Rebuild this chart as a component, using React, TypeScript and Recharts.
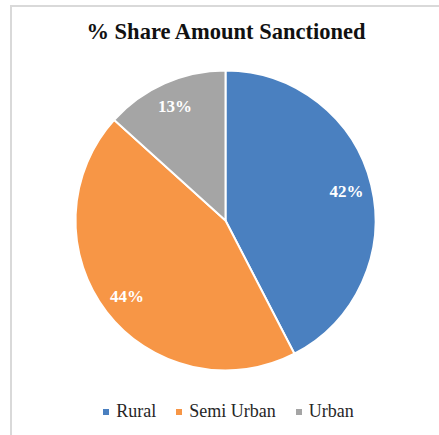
import { PieChart, Pie, Cell, Legend } from "recharts"

const categories = ["Rural", "Semi Urban", "Urban"]
const shares = [42.4, 44.3, 13.3]
const colors = ["#4a80c0", "#f79646", "#a5a5a5"]

const data = categories.map((name, i) => ({ name, value: shares[i] }))

const RAD = Math.PI / 180
const FONT = "Liberation Serif, serif"

function renderLabel({ cx, cy, midAngle, outerRadius, value }: any) {
  const r = outerRadius * 0.83
  const x = cx + r * Math.cos(-midAngle * RAD)
  const y = cy + r * Math.sin(-midAngle * RAD)
  return (
    <text
      x={x}
      y={y}
      fill="#ffffff"
      textAnchor="middle"
      dominantBaseline="central"
      fontFamily={FONT}
      fontWeight="bold"
      fontSize={17}
    >
      {`${Math.round(value)}%`}
    </text>
  )
}

function renderLegend() {
  return (
    <div style={{ display: "flex", justifyContent: "center", fontFamily: FONT, fontSize: 18, color: "#262626", paddingLeft: 18 }}>
      {categories.map((name, i) => (
        <div key={name} style={{ display: "flex", alignItems: "center", marginRight: i < categories.length - 1 ? 20 : 0 }}>
          <span style={{ width: 6, height: 6, background: colors[i], display: "inline-block", marginRight: 7 }} />
          <span>{name}</span>
        </div>
      ))}
    </div>
  )
}

export default function App() {
  return (
    <div style={{ position: "absolute", left: 0, top: 0, width: 439, height: 435, overflow: "hidden", background: "#fff" }}>
      <div
        style={{
          position: "absolute",
          left: 10,
          top: 5,
          width: 460,
          height: 460,
          border: "2px solid #d9d9d9",
        }}
      />
      <div
        style={{
          position: "absolute",
          left: 0,
          top: 19,
          width: 452,
          textAlign: "center",
          fontFamily: FONT,
          fontWeight: "bold",
          fontSize: 22.5,
          color: "#111",
        }}
      >
        % Share Amount Sanctioned
      </div>
      <div style={{ position: "absolute", left: 0, top: 0 }}>
        <PieChart width={439} height={435} margin={{ top: 0, right: 0, bottom: 0, left: 0 }}>
          <Pie
            data={data}
            dataKey="value"
            cx={225.5}
            cy={220.5}
            outerRadius={150}
            startAngle={90}
            endAngle={-270}
            stroke="#ffffff"
            strokeWidth={2}
            label={renderLabel}
            labelLine={false}
            isAnimationActive={false}
          >
            {data.map((entry, index) => (
              <Cell key={`cell-${index}`} fill={colors[index]} />
            ))}
          </Pie>
          <Legend content={renderLegend} verticalAlign="bottom" wrapperStyle={{ bottom: 13 }} />
        </PieChart>
      </div>
    </div>
  )
}
